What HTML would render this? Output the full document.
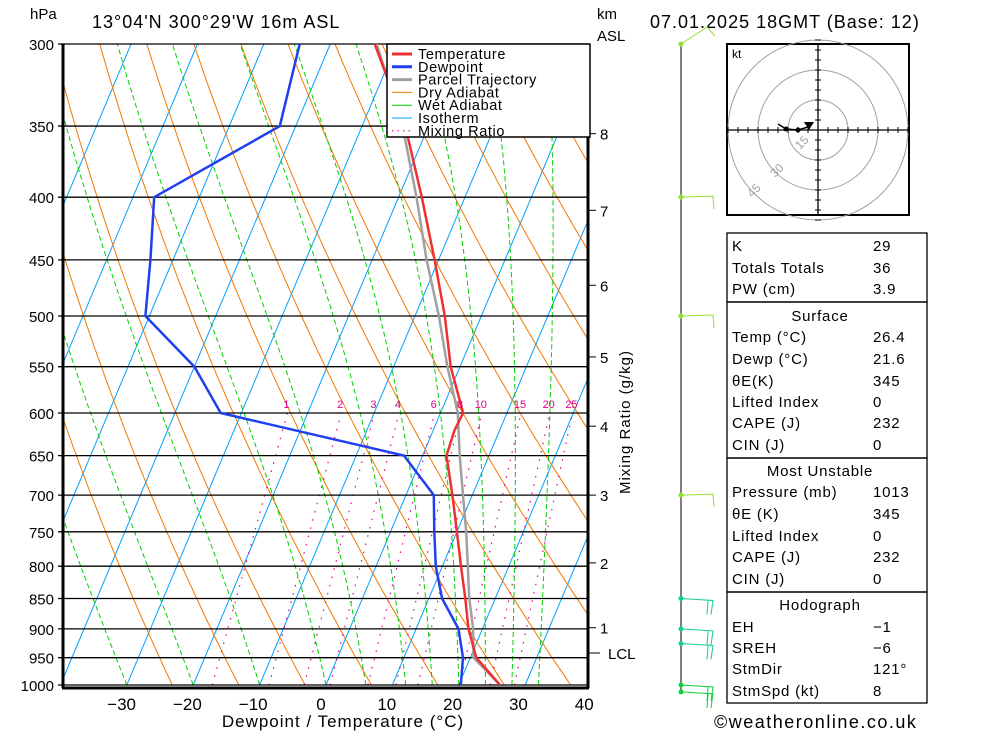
<!DOCTYPE html>
<html><head><meta charset="utf-8"><style>
body{margin:0;background:#fff;}
svg{display:block;font-family:"Liberation Sans",sans-serif;}
</style></head><body>
<svg id="chart" width="1000" height="733" viewBox="0 0 1000 733" xmlns="http://www.w3.org/2000/svg">
<defs><clipPath id="plotclip"><rect x="63" y="44" width="525" height="641"/></clipPath></defs>
<rect x="0" y="0" width="1000" height="733" fill="#fff"/>
<text x="30" y="19" font-size="15">hPa</text>
<text x="92" y="28" font-size="18" letter-spacing="1">13°04'N  300°29'W  16m  ASL</text>
<text x="597" y="19" font-size="15">km</text>
<text x="597" y="41" font-size="15">ASL</text>
<text x="650" y="28" font-size="18" letter-spacing="1">07.01.2025  18GMT  (Base:  12)</text>
<g id="bg" clip-path="url(#plotclip)"></g>
<g id="plev"></g>
<g id="series" clip-path="url(#plotclip)"></g>
<g id="axes"></g>
<g id="legend">
 <rect x="387" y="44" width="203" height="93" fill="#fff" stroke="#000" stroke-width="1.5"/>
</g>
<g id="wind"></g>
<g id="hodo">
 <rect x="727" y="44" width="182" height="171" fill="#fff" stroke="#000" stroke-width="2"/>
 <text x="732" y="58" font-size="12">kt</text>
</g>
<g id="table" font-size="15"></g>
<text x="714" y="728" font-size="18" letter-spacing="1.5">©weatheronline.co.uk</text>
<script>
// ---------- data ----------
const levels = [1000, 950, 900, 850, 800, 750, 700, 650, 620, 600, 550, 500, 450, 400, 350, 300];
const tempC = [26.2, 20.9, 17.9, 15.5, 12.8, 10.0, 7.0, 3.6, 3.2, 3.4, -1.4, -5.5, -10.6, -16.5, -23.5, -33.3];
const dewLevels = [1000, 950, 900, 850, 800, 750, 700, 650, 600, 550, 500, 450, 400, 350, 300];
const dewC = [20.3, 18.9, 16.4, 12.0, 9.0, 6.6, 4.2, -2.8, -33.1, -40.0, -50.6, -53.4, -56.8, -42.4, -44.6];
const parcelLevels = [1000, 950, 900, 850, 750, 700, 650, 600, 550, 500, 450, 400, 350, 300];
const parcelC = [26.2, 20.5, 18.6, 16.1, 11.4, 8.6, 5.6, 2.6, -1.9, -6.4, -11.8, -17.3, -23.9, -33.0];
const pTicks = [1000, 950, 900, 850, 800, 750, 700, 650, 600, 550, 500, 450, 400, 350, 300];
const tTicks = [-30, -20, -10, 0, 10, 20, 30, 40];
const kmLabels = ["1", "2", "3", "4", "5", "6", "7", "8"];
const kmPressure = [898, 795, 700, 615, 540, 472, 410, 355];
const mixRatios = [1, 2, 3, 4, 6, 8, 10, 15, 20, 25];
const windLevels = [300, 400, 500, 700, 850, 900, 925, 1000, 1013];

// ---------- axis functions ----------
const NS = "http://www.w3.org/2000/svg";
function yP(p){ return 44 + Math.log(p/300)/Math.log(1000/300)*641; }
function xT(t,p){ return 326 + 6.64*t + 0.421*(685 - yP(p)); }
function xTick(t){ return 321 + 6.58*t; }
function mk(tag, attrs, parent){ const e=document.createElementNS(NS,tag); for(const k in attrs) e.setAttribute(k,attrs[k]); parent.appendChild(e); return e; }
const bg=document.getElementById('bg');
for(let t=-110;t<=40;t+=10){
  const l=mk('line',{x1:xT(t,1000),y1:yP(1000),x2:xT(t,300),y2:yP(300),stroke:'#00a0ff','stroke-width':1},bg);
  
  
}
for(let th=250;th<=470;th+=10){
  let d='';
  for(let p=1000;p>=300;p-=10){ const t=th*Math.pow(p/1000,0.286)-273.15; d+=(d?'L':'M')+xT(t,p).toFixed(1)+' '+yP(p).toFixed(1); }
  const e=mk('path',{d:d,stroke:'#f07800',fill:'none','stroke-width':1},bg);
  
  
}
function es(t){ return 6.112*Math.exp(17.67*t/(t+243.5)); }
for(const tw of [-40,-30,-20,-10,0,6,12,16,20,24,28,32]){
  let T=tw+273.15, d='';
  for(let p=1000;p>=300;p-=5){
    const tc=T-273.15, rs=0.622*es(tc)/(p-es(tc));
    d+=(d?'L':'M')+xT(tc,p).toFixed(1)+' '+yP(p).toFixed(1);
    const L=2.5e6,Rd=287,cp=1004;
    const dTdp=(Rd*T+L*rs)/(cp+L*L*rs*0.622/(Rd*T*T))/p;
    T-=dTdp*5;
  }
  const e=mk('path',{d:d,stroke:'#00d000',fill:'none','stroke-width':1,'stroke-dasharray':'5 3'},bg);
  
  
}
function tdW(w,p){ const e=w*p/(622+w); const a=Math.log(e/6.112); return 243.5*a/(17.67-a); }
const mrg=document.getElementById('axes');
for(const w of mixRatios){
  const e=mk('line',{x1:xT(tdW(w,1000),1000),y1:yP(1000),x2:xT(tdW(w,600),600),y2:yP(600),stroke:'#e0008c','stroke-width':1.2,'stroke-dasharray':'1.5 7'},bg);
  
  
  const tx=mk('text',{x:xT(tdW(w,600),600)-1,y:408,'font-size':11,fill:'#e0008c','text-anchor':'middle'},mrg);
  tx.textContent=w;
  
  
}
const pl=document.getElementById('plev');
for(const p of pTicks){
  const l=mk('line',{x1:58,y1:yP(p),x2:588,y2:yP(p),stroke:'#000','stroke-width':1.3},pl);
  
  
  const t=mk('text',{x:54,y:yP(p)+6,'font-size':15,'text-anchor':'end'},pl);
  t.textContent=p;
  
  
}
const sg=document.getElementById('series');
function prof(ps,ts,color,w,name){
  let d=''; ps.forEach((p,i)=>{ d+=(i?'L':'M')+xT(ts[i],p).toFixed(1)+' '+yP(p).toFixed(1); });
  const e=mk('path',{d:d,stroke:color,fill:'none','stroke-width':w,'stroke-linejoin':'round'},sg);
  
  
}
prof(parcelLevels,parcelC,'#a0a0a0',2.5,'parcel-trajectory-line');
prof(levels,tempC,'#f03030',2.5,'temperature-line');
prof(dewLevels,dewC,'#2040f0',2.5,'dewpoint-line');
const ax=document.getElementById('axes');
mk('line',{x1:63,y1:44,x2:63,y2:688,stroke:'#000','stroke-width':3},ax);
mk('line',{x1:62,y1:688,x2:589,y2:688,stroke:'#000','stroke-width':3},ax);
mk('line',{x1:588,y1:44,x2:588,y2:688,stroke:'#000','stroke-width':3},ax);
tTicks.forEach(t=>{
  const e=mk('text',{x:xTick(t)+(t<0?-2:0),y:710,'font-size':17,'text-anchor':'middle'},ax);
  e.textContent=(t<0?'−':'')+Math.abs(t);
  
  
});
const xt=mk('text',{x:343,y:727,'font-size':17,'text-anchor':'middle','letter-spacing':1},ax);
xt.textContent='Dewpoint / Temperature (°C)';


kmLabels.forEach((k,i)=>{
  const y=yP(kmPressure[i]);
  mk('line',{x1:588,y1:y,x2:596,y2:y,stroke:'#000','stroke-width':1},ax);
  const e=mk('text',{x:600,y:y+6,'font-size':15},ax);
  e.textContent=k;
  
  
});
mk('line',{x1:588,y1:653,x2:600,y2:653,stroke:'#000','stroke-width':1},ax);
const lcl=mk('text',{x:608,y:659,'font-size':15},ax); lcl.textContent='LCL';


const mrt=mk('text',{x:0,y:0,'font-size':15,'text-anchor':'middle',transform:'translate(630,422) rotate(-90)','letter-spacing':1},ax);
mrt.textContent='Mixing Ratio (g/kg)';


const lg=document.getElementById('legend');
const items=[['Temperature','#f03030',3,''],['Dewpoint','#2040f0',3,''],['Parcel Trajectory','#a0a0a0',3,''],['Dry Adiabat','#f07800',1,''],['Wet Adiabat','#00d000',1,''],['Isotherm','#00a0ff',1,''],['Mixing Ratio','#e0008c',1.2,'1.5 4']];
items.forEach((it,i)=>{
  const y=54+i*12.8;
  mk('line',{x1:392,y1:y,x2:412,y2:y,stroke:it[1],'stroke-width':it[2],'stroke-dasharray':it[3]||'none'},lg);
  const t=mk('text',{x:418,y:y+5,'font-size':14.5,'letter-spacing':0.6},lg); t.textContent=it[0];
  
  
});
const wd=document.getElementById('wind');
mk('line',{x1:681,y1:44,x2:681,y2:690,stroke:'#000','stroke-width':1},wd);
windLevels.forEach(p=>{
  const y=yP(p), col = p<=700?'#90e030':(p>=1000?'#10d040':'#10d090');
  const g=mk('g',{},wd);
  
  
  mk('circle',{cx:681,cy:y,r:2.5,fill:col},g);
  if(p===300){ mk('path',{d:`M681 ${y}L707 ${y-17}L715 ${y-8}`,stroke:col,fill:'none'},g); }
  else if(p<=700){ mk('path',{d:`M681 ${y}L713 ${y-1}L714 ${y+12}`,stroke:col,fill:'none'},g); }
  else { mk('path',{d:`M681 ${y}L713 ${y+2}L711 ${y+16}M708 ${y+2}L707 ${y+16}`,stroke:col,fill:'none'},g); }
});
const hd=document.getElementById('hodo');
[30,60,90].forEach(r=>mk('circle',{cx:818,cy:130,r:r,fill:'none',stroke:'#a0a0a0','stroke-width':1},hd));
mk('line',{x1:727,y1:130,x2:909,y2:130,stroke:'#000','stroke-width':1.3},hd);
mk('line',{x1:818,y1:44,x2:818,y2:215,stroke:'#000','stroke-width':1.3},hd);
for(let d=-90;d<=90;d+=10){ mk('line',{x1:818+d,y1:127,x2:818+d,y2:133,stroke:'#000'},hd); mk('line',{x1:815,y1:130+d,x2:821,y2:130+d,stroke:'#000'},hd); }
[['15',800,150],['30',775,178],['45',752,198]].forEach(a=>{const t=mk('text',{x:a[1],y:a[2],'font-size':12,fill:'#a0a0a0',transform:`rotate(-45 ${a[1]} ${a[2]})`},hd); t.textContent=a[0];});
mk('path',{d:'M778 124L786 129L798 130L808 127',stroke:'#000',fill:'none','stroke-width':1.5},hd);
mk('circle',{cx:786,cy:129,r:2.5,fill:'#000'},hd);
mk('circle',{cx:798,cy:130,r:2.5,fill:'#000'},hd);
mk('path',{d:'M804 122L814 122L809 130Z',fill:'#000'},hd);
const tb=document.getElementById('table');
[[233,302],[302,458],[458,592],[592,703]].forEach(b=>mk('rect',{x:727,y:b[0],width:200,height:b[1]-b[0],fill:'none',stroke:'#000','stroke-width':1.3},tb));
const rows=[['K','29',246],['Totals Totals','36',268],['PW (cm)','3.9',289],['#Surface','',316],['Temp (°C)','26.4',337],['Dewp (°C)','21.6',359],['θE(K)','345',381],['Lifted Index','0',402],['CAPE (J)','232',423],['CIN (J)','0',445],['#Most Unstable','',471],['Pressure (mb)','1013',492],['θE (K)','345',514],['Lifted Index','0',536],['CAPE (J)','232',557],['CIN (J)','0',579],['#Hodograph','',605],['EH','−1',627],['SREH','−6',648],['StmDir','121°',669],['StmSpd (kt)','8',691]];
rows.forEach(r=>{
  if(r[0][0]==='#'){ const t=mk('text',{x:820,y:r[2]+5,'text-anchor':'middle','letter-spacing':0.8},tb); t.textContent=r[0].slice(1);   return; }
  const t=mk('text',{x:732,y:r[2]+5,'letter-spacing':0.8},tb); t.textContent=r[0];
  
  
  const v=mk('text',{x:873,y:r[2]+5,'letter-spacing':0.8},tb); v.textContent=r[1];
  
  
});
</script>
</svg>
</body></html>
